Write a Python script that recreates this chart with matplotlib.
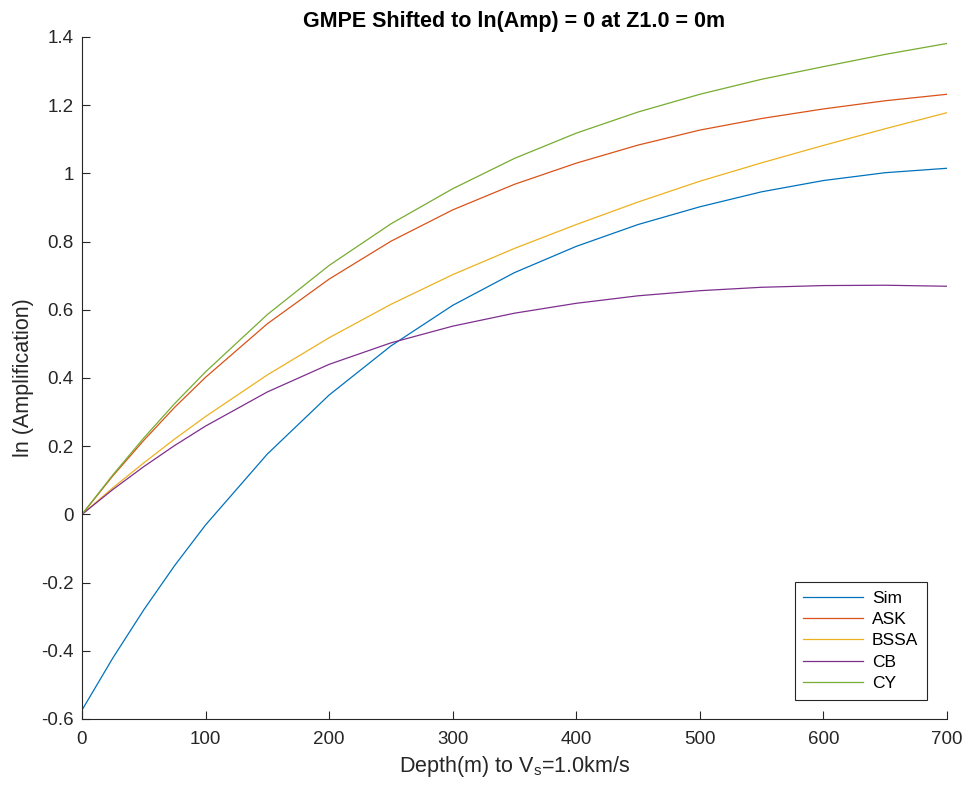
import numpy as np
import matplotlib
matplotlib.use("Agg")
import matplotlib.pyplot as plt

plt.rcParams["font.family"] = ["Liberation Sans", "DejaVu Sans"]
plt.rcParams["mathtext.fontset"] = "custom"
plt.rcParams["mathtext.rm"] = "Liberation Sans"
plt.rcParams["mathtext.it"] = "Liberation Sans"

# depth to Vs = 1.0 km/s (m)
depth = [0, 25, 50, 75, 100, 150, 200, 250, 300, 350, 400, 450, 500, 550, 600, 650, 700]

# ln(amplification), GMPEs shifted to 0 at Z1.0 = 0 m
sim = [-0.574, -0.421, -0.280, -0.150, -0.031, 0.177, 0.350, 0.494, 0.613, 0.709,
       0.786, 0.850, 0.902, 0.946, 0.979, 1.002, 1.015]
ask = [0.0, 0.113, 0.217, 0.314, 0.402, 0.559, 0.690, 0.801, 0.893, 0.968,
       1.030, 1.083, 1.127, 1.161, 1.189, 1.213, 1.232]
bssa = [0.0, 0.078, 0.151, 0.221, 0.287, 0.409, 0.518, 0.616, 0.703, 0.780,
        0.850, 0.916, 0.977, 1.031, 1.082, 1.131, 1.178]
cb = [0.0, 0.073, 0.140, 0.202, 0.259, 0.359, 0.440, 0.503, 0.552, 0.590,
      0.619, 0.641, 0.656, 0.666, 0.671, 0.672, 0.669]
cy = [0.0, 0.116, 0.224, 0.325, 0.418, 0.586, 0.730, 0.852, 0.955, 1.044,
      1.118, 1.180, 1.232, 1.276, 1.313, 1.349, 1.381]

series = [("Sim", sim, "#0072BD"),
          ("ASK", ask, "#D95319"),
          ("BSSA", bssa, "#EDB120"),
          ("CB", cb, "#7E2F8E"),
          ("CY", cy, "#77AC30")]

yticks = [-0.6, -0.4, -0.2, 0, 0.2, 0.4, 0.6, 0.8, 1, 1.2, 1.4]
ytick_labels = ["-0.6", "-0.4", "-0.2", "0", "0.2", "0.4", "0.6", "0.8", "1", "1.2", "1.4"]
xticks = [0, 100, 200, 300, 400, 500, 600, 700]

ink = "#262626"

fig = plt.figure(figsize=(9.69, 7.92), dpi=100)
ax = fig.add_axes([0.0846, 0.0922, 0.8927, 0.8611])

for name, vals, color in series:
    ax.plot(depth, vals, color=color, linewidth=0.9, label=name)

ax.set_xlim(0, 700)
ax.set_ylim(-0.6, 1.4)
ax.set_xticks(xticks)
ax.set_xticklabels([str(t) for t in xticks])
ax.set_yticks(yticks)
ax.set_yticklabels(ytick_labels)

ax.spines["top"].set_visible(False)
ax.spines["right"].set_visible(False)
for s in ("left", "bottom"):
    ax.spines[s].set_color(ink)
    ax.spines[s].set_linewidth(0.8)
ax.tick_params(direction="in", length=6, width=0.8, colors=ink, labelsize=13.5)
ax.tick_params(axis="x", pad=9)
ax.tick_params(axis="y", pad=6)

ax.set_title("GMPE Shifted to ln(Amp) = 0 at Z1.0 = 0m", fontsize=15.5,
             fontweight="bold", pad=7)
ax.set_xlabel(r"Depth(m) to V$_{\mathregular{s}}$=1.0km/s", fontsize=15.5, color=ink, labelpad=4)
ax.set_ylabel("ln (Amplification)", fontsize=15.5, color=ink, labelpad=5)

leg = ax.legend(loc="lower right", bbox_to_anchor=(0.977, 0.028), borderaxespad=0,
                fontsize=12.5, handlelength=3.4, handletextpad=0.55, labelspacing=0.36,
                fancybox=False, framealpha=1, borderpad=0.5)
leg.get_frame().set_edgecolor(ink)
leg.get_frame().set_linewidth(0.8)

fig.savefig("out.png", dpi=100)
